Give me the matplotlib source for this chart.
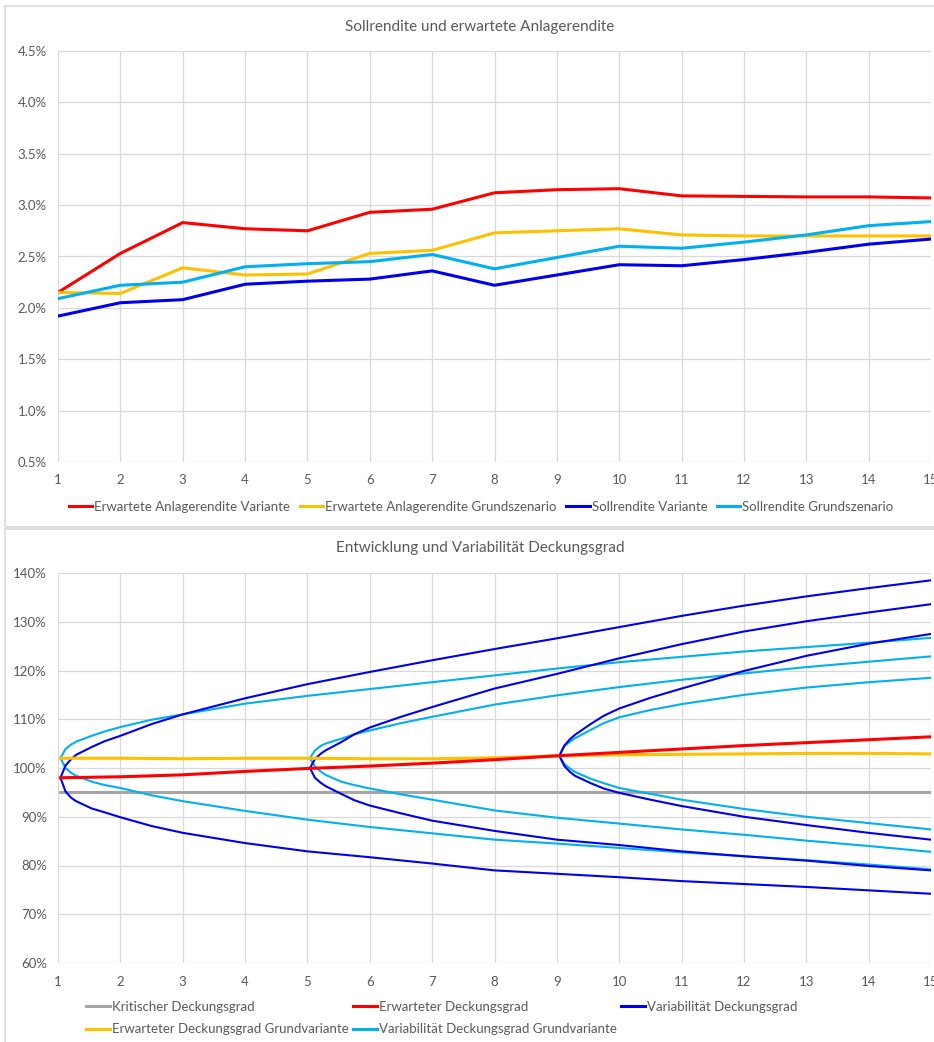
import matplotlib
matplotlib.use("Agg")
import matplotlib.pyplot as plt
from matplotlib.patches import Rectangle
from matplotlib.ticker import FuncFormatter, MultipleLocator

plt.rcParams['font.family'] = ['Lato', 'DejaVu Sans']

# --- Sollrendite und erwartete Anlagerendite (in %)
jahre = [1, 2, 3, 4, 5, 6, 7, 8, 9, 10, 11, 12, 13, 14, 15]
erw_rendite_variante = [2.15, 2.53, 2.83, 2.77, 2.75, 2.93, 2.96, 3.12, 3.15, 3.16, 3.09, 3.085, 3.08, 3.08, 3.07]
erw_rendite_grund = [2.15, 2.14, 2.39, 2.32, 2.33, 2.53, 2.56, 2.73, 2.75, 2.77, 2.71, 2.70, 2.70, 2.70, 2.70]
soll_variante = [1.92, 2.05, 2.08, 2.23, 2.26, 2.28, 2.36, 2.22, 2.32, 2.42, 2.41, 2.47, 2.54, 2.62, 2.67]
soll_grund = [2.09, 2.22, 2.25, 2.40, 2.43, 2.45, 2.52, 2.38, 2.49, 2.60, 2.58, 2.64, 2.71, 2.80, 2.84]

# --- Deckungsgrad (in %)
jahre_dg = [1.04, 2, 3, 4, 5, 6, 7, 8, 9, 10, 11, 12, 13, 14, 15]
dg_kritisch = [95, 95, 95, 95, 95, 95, 95, 95, 95, 95, 95, 95, 95, 95, 95]
dg_erwartet = [98.0, 98.2, 98.6, 99.3, 99.9, 100.4, 101.0, 101.7, 102.5, 103.2, 103.9, 104.6, 105.2, 105.8, 106.4]
dg_erwartet_grund = [102.0, 102.0, 101.9, 102.0, 102.0, 101.9, 101.9, 102.1, 102.5, 102.7, 102.8, 102.9, 103.0, 103.0, 102.9]

# Faecher ab Jahr 1
fan1_x = [1.04, 1.12, 1.21, 1.29, 1.54, 1.75, 2, 2.5, 3, 4, 5, 6, 7, 8, 9, 10, 11, 12, 13, 14, 15]
fan1_var_oben = [98.0, 100.5, 101.8, 102.7, 104.3, 105.5, 106.6, 109.0, 111.0, 114.3, 117.2, 119.7, 122.1, 124.4, 126.6, 128.9, 131.2, 133.3, 135.2, 136.9, 138.5]
fan1_var_unten = [98.0, 95.2, 93.9, 93.2, 91.7, 90.9, 89.9, 88.1, 86.7, 84.6, 82.9, 81.7, 80.4, 79.0, 78.3, 77.6, 76.8, 76.2, 75.6, 74.9, 74.2]
fan1_grund_oben = [102.0, 103.9, 104.8, 105.4, 106.6, 107.5, 108.4, 109.9, 111.0, 113.2, 114.8, 116.2, 117.6, 119.0, 120.4, 121.7, 122.8, 123.9, 124.8, 125.7, 126.7]
fan1_grund_unten = [102.0, 100.0, 99.0, 98.4, 97.2, 96.5, 95.9, 94.4, 93.2, 91.2, 89.4, 87.9, 86.6, 85.3, 84.5, 83.6, 82.7, 81.9, 81.1, 80.2, 79.2]

# Faecher ab Jahr 5
fan5_x = [5.04, 5.12, 5.21, 5.29, 5.54, 5.75, 6, 6.5, 7, 8, 9, 10, 11, 12, 13, 14, 15]
fan5_var_oben = [100.0, 101.8, 102.9, 103.6, 105.3, 106.9, 108.3, 110.5, 112.5, 116.3, 119.3, 122.5, 125.4, 128.0, 130.1, 131.9, 133.6]
fan5_var_unten = [100.0, 98.0, 97.0, 96.3, 94.7, 93.4, 92.3, 90.7, 89.2, 87.1, 85.3, 84.2, 82.9, 81.9, 81.0, 79.9, 79.0]
fan5_grund_oben = [102.0, 103.6, 104.5, 105.0, 106.0, 106.9, 107.7, 109.2, 110.5, 113.0, 114.9, 116.6, 118.1, 119.4, 120.7, 121.8, 122.9]
fan5_grund_unten = [102.0, 100.3, 99.3, 98.6, 97.2, 96.5, 95.8, 94.6, 93.5, 91.3, 89.8, 88.6, 87.4, 86.3, 85.1, 84.0, 82.8]

# Faecher ab Jahr 9
fan9_x = [9.04, 9.12, 9.21, 9.29, 9.54, 9.75, 10, 10.5, 11, 12, 13, 14, 15]
fan9_var_oben = [102.5, 104.6, 105.9, 106.8, 109.0, 110.7, 112.2, 114.4, 116.3, 119.9, 123.0, 125.5, 127.5]
fan9_var_unten = [102.5, 100.4, 99.2, 98.4, 96.9, 95.8, 94.9, 93.5, 92.2, 90.0, 88.3, 86.7, 85.3]
fan9_grund_oben = [102.5, 104.5, 105.4, 106.1, 107.8, 109.2, 110.4, 111.9, 113.1, 115.0, 116.5, 117.6, 118.5]
fan9_grund_unten = [102.5, 100.8, 99.9, 99.2, 97.8, 96.9, 95.9, 94.7, 93.5, 91.6, 90.0, 88.7, 87.4]

ROT = '#FF0000'
GELB = '#FFC000'
BLAU = '#0000F0'
HELLBLAU = '#00B0F0'
GRAU = '#A6A6A6'
TEXT = '#595959'
GRID = '#D9D9D9'

W, H = 934, 1042
fig = plt.figure(figsize=(W / 100, H / 100), dpi=100)


def box(x0, y0, x1, y1):
    return [x0 / W, 1 - y1 / H, (x1 - x0) / W, (y1 - y0) / H]


# chart frames like in Excel
for y0, y1 in [(6, 527), (529, 1060)]:
    fig.patches.append(Rectangle((5 / W, 1 - y1 / H), 1.0, (y1 - y0) / H,
                                 transform=fig.transFigure, fill=False,
                                 ec=GRID, lw=1.2))


def style_axes(ax):
    ax.set_xlim(1, 15)
    ax.xaxis.set_major_locator(MultipleLocator(1))
    ax.grid(True, color=GRID, lw=0.9)
    ax.set_axisbelow(True)
    for s in ax.spines.values():
        s.set_visible(False)
    ax.tick_params(length=0, colors=TEXT, labelsize=9.5)
    ax.tick_params(axis='x', pad=9)
    ax.tick_params(axis='y', pad=8)


# ---------------- top chart
ax1 = fig.add_axes(box(58, 51, 931, 462))
style_axes(ax1)
ax1.set_ylim(0.5, 4.5)
ax1.yaxis.set_major_locator(MultipleLocator(0.5))
ax1.yaxis.set_major_formatter(FuncFormatter(lambda v, p: f"{v:.1f}%"))
l1, = ax1.plot(jahre, erw_rendite_variante, color=ROT, lw=2.2)
l2, = ax1.plot(jahre, erw_rendite_grund, color=GELB, lw=2.2)
l3, = ax1.plot(jahre, soll_variante, color=BLAU, lw=2.2)
l4, = ax1.plot(jahre, soll_grund, color=HELLBLAU, lw=2.2)
fig.text(480 / W, 1 - 27 / H, "Sollrendite und erwartete Anlagerendite",
         ha='center', va='center', color=TEXT, fontsize=11)
fig.legend([l1, l2, l3, l4],
           ["Erwartete Anlagerendite Variante", "Erwartete Anlagerendite Grundszenario",
            "Sollrendite Variante", "Sollrendite Grundszenario"],
           loc='center', bbox_to_anchor=(481 / W, 1 - 507 / H), ncol=4, frameon=False,
           fontsize=9.5, handlelength=1.8, handletextpad=0.15, columnspacing=0.7,
           labelcolor=TEXT, borderpad=0)

# ---------------- bottom chart
ax2 = fig.add_axes(box(58, 573, 931, 963))
style_axes(ax2)
ax2.set_ylim(60, 140)
ax2.yaxis.set_major_locator(MultipleLocator(10))
ax2.yaxis.set_major_formatter(FuncFormatter(lambda v, p: f"{v:.0f}%"))

k, = ax2.plot(jahre_dg, dg_kritisch, color=GRAU, lw=2.2)
for fx, ys in [(fan1_x, [fan1_grund_oben, fan1_grund_unten]),
               (fan5_x, [fan5_grund_oben, fan5_grund_unten]),
               (fan9_x, [fan9_grund_oben, fan9_grund_unten])]:
    for y in ys:
        vg, = ax2.plot(fx, y, color=HELLBLAU, lw=1.5)
for fx, ys in [(fan1_x, [fan1_var_oben, fan1_var_unten]),
               (fan5_x, [fan5_var_oben, fan5_var_unten]),
               (fan9_x, [fan9_var_oben, fan9_var_unten])]:
    for y in ys:
        v, = ax2.plot(fx, y, color=BLAU, lw=1.5)
eg, = ax2.plot(jahre_dg, dg_erwartet_grund, color=GELB, lw=2.2)
e, = ax2.plot(jahre_dg, dg_erwartet, color=ROT, lw=2.2)

fig.text(480 / W, 1 - 548 / H, "Entwicklung und Variabilität Deckungsgrad",
         ha='center', va='center', color=TEXT, fontsize=11)
leg = fig.legend([k, eg, e, vg, v],
                 ["Kritischer Deckungsgrad", "Erwarteter Deckungsgrad Grundvariante",
                  "Erwarteter Deckungsgrad", "Variabilität Deckungsgrad Grundvariante",
                  "Variabilität Deckungsgrad"],
                 loc='center left', bbox_to_anchor=(86 / W, 1 - 1018 / H), ncol=3,
                 frameon=False, fontsize=9.5, handlelength=1.8, handletextpad=0.15,
                 columnspacing=0.35, labelspacing=0.8, labelcolor=TEXT,
                 borderpad=0, borderaxespad=0)
for h in leg.legend_handles:
    h.set_linewidth(2.2)

fig.savefig("out.png", dpi=100)
